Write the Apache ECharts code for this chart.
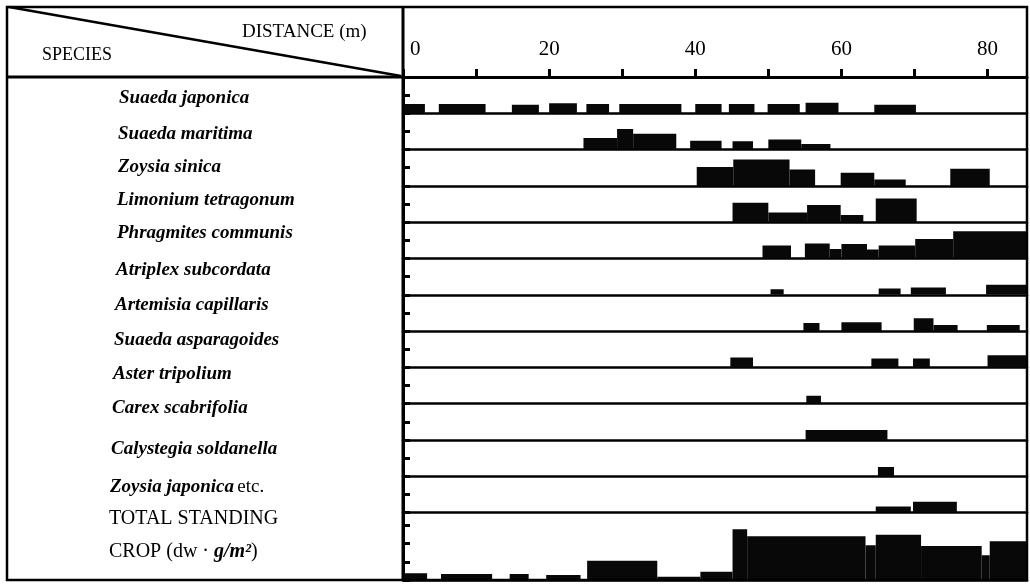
<!DOCTYPE html>
<html><head><meta charset="utf-8">
<script src="https://cdn.jsdelivr.net/npm/echarts@6/dist/echarts.min.js"></script>
<style>html,body{margin:0;padding:0;background:#fff}#c{width:1030px;height:584px}</style>
</head><body><div id="c"></div>
<script>
// ---- data ----
const distanceTicks = [0, 20, 40, 60, 80];
const speciesNames = [
  'Suaeda japonica', 'Suaeda maritima', 'Zoysia sinica', 'Limonium tetragonum',
  'Phragmites communis', 'Atriplex subcordata', 'Artemisia capillaris',
  'Suaeda asparagoides', 'Aster tripolium', 'Carex scabrifolia',
  'Calystegia soldanella', 'Zoysia japonica'
];
// segments: [from (m), to (m), standing crop]
const suaedaJaponica = [[0,3.0,51],[4.9,11.3,51],[14.9,18.6,47],[20.0,23.8,55],[25.1,28.2,51],[29.6,38.1,51],[40.0,43.6,51],[44.6,48.1,51],[49.9,54.3,51],[55.1,59.6,58],[64.5,70.2,47]];
const suaedaMaritima = [[24.7,29.3,64],[29.3,31.5,113],[31.5,37.4,88],[39.3,43.6,49],[45.1,47.9,46],[50.0,54.5,55],[54.5,58.5,31]];
const zoysiaSinica = [[40.2,45.2,104],[45.2,52.9,146],[52.9,56.4,91],[59.9,64.5,73],[64.5,68.8,35],[74.9,80.3,95]];
const limoniumTetragonum = [[45.1,50.0,107],[50.0,55.3,53],[55.3,59.9,95],[59.9,63.0,40],[64.7,70.3,131]];
const phragmitesCommunis = [[49.2,53.1,71],[55.0,58.4,82],[58.4,60.0,53],[60.0,63.5,80],[63.5,65.1,49],[65.1,70.1,71],[70.1,75.3,108],[75.3,85.4,150]];
const atriplexSubcordata = [[50.3,52.1,31],[65.1,68.1,35],[69.5,74.3,40],[79.8,85.4,55]];
const artemisiaCapillaris = [[54.8,57.0,44],[60.0,65.5,49],[69.9,72.6,71],[72.6,75.9,33],[79.9,84.4,33]];
const suaedaAsparagoides = [[44.8,47.9,55],[64.1,67.8,49],[69.8,72.1,49],[80.0,85.4,67]];
const asterTripolium = [[55.2,57.2,44]];
const carexScabrifolia = [[55.1,66.3,55]];
const calystegiaSoldanella = [[65.0,67.2,51]];
const zoysiaJaponica = [[64.7,69.5,33],[69.8,75.8,60]];
const totalStandingCrop = [[0,3.3,37],[5.2,12.2,33],[14.6,17.2,33],[19.6,24.3,27],[25.2,34.8,106],[34.8,40.7,18],[40.7,45.1,45],[45.1,47.1,280],[47.1,63.3,241],[63.3,64.7,192],[64.7,70.9,250],[70.9,79.2,188],[79.2,80.3,137],[80.3,85.4,214]];

const rowData = [suaedaJaponica, suaedaMaritima, zoysiaSinica, limoniumTetragonum,
  phragmitesCommunis, atriplexSubcordata, artemisiaCapillaris, suaedaAsparagoides,
  asterTripolium, carexScabrifolia, calystegiaSoldanella, zoysiaJaponica, totalStandingCrop];

// ---- layout ----
const XMAX = 85.4;
const FX = 7, FY = 7;
const X0 = 403, X1 = 1027, TOP = 77, ROW_H = 36.3, BOTTOM = 580;
const labelY = [98, 134, 167, 200, 233, 270, 305, 340, 374, 408, 449, 487];
const labelXs = [119, 118, 118, 117, 117, 116, 115, 114, 113, 112, 111, 110];
const SERIF = '"Liberation Serif","DejaVu Serif",serif';

const chart = echarts.init(document.getElementById('c'), null, {renderer: 'canvas'});

function renderItem(params, api) {
  const p0 = api.coord([api.value(0), api.value(2)]);
  const p1 = api.coord([api.value(1), 0]);
  return {type: 'rect', shape: {x: p0[0], y: p0[1], width: p1[0] - p0[0], height: p1[1] - p0[1]},
    style: {fill: '#080808'}};
}

const grids = [], xAxes = [], yAxes = [], series = [];
rowData.forEach((d, i) => {
  const isTotal = i === rowData.length - 1;
  const top = TOP + i * ROW_H;
  const h = isTotal ? BOTTOM - top : ROW_H;
  grids.push({left: X0, top: top, width: X1 - X0, height: h, containLabel: false, outerBoundsMode: 'none'});
  xAxes.push({gridIndex: i, type: 'value', min: 0, max: XMAX, position: 'bottom',
    axisLine: {show: true, lineStyle: {color: '#000', width: 2.5}},
    axisTick: {show: false}, axisLabel: {show: false}, splitLine: {show: false}});
  yAxes.push({gridIndex: i, type: 'value', min: 0, max: h / ROW_H * 200, interval: 100,
    axisLine: {show: true, lineStyle: {color: '#000', width: 3}},
    axisTick: {show: true, inside: true, length: 7, lineStyle: {color: '#000', width: 3}},
    axisLabel: {show: false}, splitLine: {show: false}});
  series.push({type: 'custom', xAxisIndex: i, yAxisIndex: i, data: d, encode: {x: [0, 1], y: 2},
    renderItem: renderItem, silent: true, clip: true});
});
// distance scale on top of first row
xAxes.push({gridIndex: 0, type: 'value', min: 0, max: XMAX, interval: 10, position: 'top',
  axisLine: {show: true, lineStyle: {color: '#000', width: 3}},
  axisTick: {show: true, length: 8, lineStyle: {color: '#000', width: 3}},
  axisLabel: {show: true, margin: 17, color: '#000', fontFamily: SERIF, fontSize: 21,
    alignMinLabel: 'left', showMaxLabel: false,
    formatter: v => v === 0 ? '{z|0}' : (distanceTicks.includes(v) ? String(v) : ''),
    rich: {z: {padding: [0, 0, 0, 7], fontFamily: SERIF, fontSize: 21, color: '#000'}}},
  splitLine: {show: false}});

const ital = {fontStyle: 'italic', fontWeight: 'bold', fontSize: 19, fontFamily: SERIF, fill: '#000'};
const norm = {fontStyle: 'normal', fontWeight: 'normal', fontSize: 19, fontFamily: SERIF, fill: '#000'};
const big = {fontStyle: 'normal', fontWeight: 'normal', fontSize: 20, fontFamily: SERIF, fill: '#000'};
const bigI = {fontStyle: 'italic', fontWeight: 'bold', fontSize: 20, fontFamily: SERIF, fill: '#000'};

const graphics = [
  {type: 'rect', z: 100, shape: {x: FX, y: FY, width: X1 - FX, height: BOTTOM - FY},
    style: {fill: 'none', stroke: '#000', lineWidth: 2.5}},
  {type: 'line', z: 100, shape: {x1: FX, y1: TOP, x2: X0, y2: TOP}, style: {stroke: '#000', lineWidth: 3}},
  {type: 'line', z: 100, shape: {x1: X0, y1: FY, x2: X0, y2: BOTTOM}, style: {stroke: '#000', lineWidth: 3}},
  {type: 'line', z: 100, shape: {x1: FX + 2, y1: FY, x2: 401, y2: 76}, style: {stroke: '#000', lineWidth: 2.5}},
  {type: 'text', z: 100, style: {text: 'DISTANCE (m)', x: 242, y: 32, verticalAlign: 'middle',
    font: 'normal 19px ' + SERIF, fill: '#000'}},
  {type: 'text', z: 100, style: {text: 'SPECIES', x: 42, y: 55, verticalAlign: 'middle',
    font: 'normal 18px ' + SERIF, fill: '#000'}}
];
speciesNames.forEach((n, i) => {
  const isLast = i === speciesNames.length - 1;
  graphics.push({type: 'text', z: 100, style: {
    text: isLast ? '{i|' + n + '} {n|etc.}' : '{i|' + n + '}',
    rich: {i: ital, n: norm}, x: labelXs[i], y: labelY[i], verticalAlign: 'middle', textAlign: 'left'}});
});
graphics.push({type: 'text', z: 100, style: {text: '{n|TOTAL STANDING}', rich: {n: big},
  x: 109, y: 519, verticalAlign: 'middle'}});
graphics.push({type: 'text', z: 100, style: {text: '{n|CROP (dw · }{i|g/m²}{n|)}', rich: {n: big, i: bigI},
  x: 109, y: 552, verticalAlign: 'middle'}});

chart.setOption({
  animation: false,
  backgroundColor: '#fff',
  grid: grids, xAxis: xAxes, yAxis: yAxes, series: series, graphic: graphics
});
</script></body></html>
